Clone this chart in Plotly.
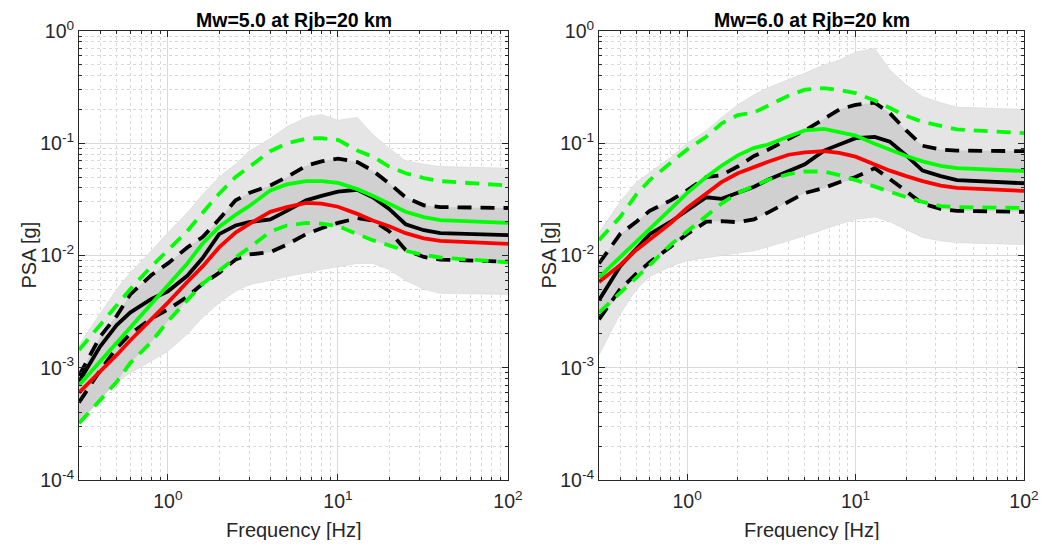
import numpy as np
import plotly.graph_objects as go

# ---------------- data ----------------
freqs = [0.3, 0.4, 0.5, 0.6, 0.8, 1.0, 1.3, 1.6, 2.0, 2.5, 3.0, 4.0, 5.0,
         6.5, 8.0, 10, 13, 16, 20, 25, 32, 40, 100]

# Mw 5.0
m5_black = [7.5e-4, 1.55e-3, 2.4e-3, 3.1e-3, 4.1e-3, 4.8e-3, 6.6e-3, 9.5e-3, 0.0155, 0.0185, 0.0198,
            0.021, 0.025, 0.031, 0.034, 0.037, 0.0385, 0.033, 0.026, 0.019, 0.0168, 0.0158, 0.0152]
m5_black_hi = [8.5e-4, 1.9e-3, 2.9e-3, 4.5e-3, 6.7e-3, 8.5e-3, 0.0118, 0.0146, 0.021, 0.031, 0.036,
               0.042, 0.05, 0.063, 0.069, 0.073, 0.068, 0.057, 0.044, 0.033, 0.028, 0.027, 0.0265]
m5_black_lo = [4.9e-4, 9.5e-4, 1.5e-3, 2.0e-3, 2.75e-3, 3.3e-3, 4.3e-3, 5.6e-3, 7.0e-3, 9.2e-3, 0.0102,
               0.0107, 0.0125, 0.0155, 0.0175, 0.0195, 0.0215, 0.0205, 0.0165, 0.0112, 0.0097, 0.0092, 0.0088]
m5_green = [7.0e-4, 1.14e-3, 1.68e-3, 2.29e-3, 3.75e-3, 5.5e-3, 8.5e-3, 0.0128, 0.018, 0.023, 0.0275,
            0.038, 0.043, 0.046, 0.046, 0.0443, 0.039, 0.034, 0.029, 0.0245, 0.022, 0.0207, 0.0195]
m5_green_hi = [1.44e-3, 2.4e-3, 3.6e-3, 5.0e-3, 8.0e-3, 0.0112, 0.0165, 0.024, 0.0355, 0.05, 0.062,
               0.085, 0.1, 0.11, 0.111, 0.107, 0.086, 0.076, 0.062, 0.054, 0.049, 0.046, 0.042]
m5_green_lo = [3.2e-4, 5.2e-4, 7.5e-4, 1.1e-3, 1.7e-3, 2.6e-3, 4.0e-3, 5.6e-3, 7.3e-3, 9.6e-3, 0.0117,
               0.0163, 0.0185, 0.0195, 0.0192, 0.0183, 0.0155, 0.0137, 0.0123, 0.011, 0.0101, 0.0096, 0.0087]
m5_red = [6.0e-4, 9.2e-4, 1.3e-3, 1.75e-3, 2.7e-3, 3.8e-3, 5.8e-3, 8.0e-3, 0.0118, 0.016, 0.019,
          0.0245, 0.027, 0.0294, 0.029, 0.0272, 0.0235, 0.0205, 0.0182, 0.0158, 0.0142, 0.0135, 0.0127]
m5_cloud_hi = [1.6e-3, 3.0e-3, 5.0e-3, 7.0e-3, 0.011, 0.016, 0.024, 0.035, 0.05, 0.065, 0.085,
               0.11, 0.14, 0.17, 0.18, 0.16, 0.17, 0.12, 0.09, 0.07, 0.065, 0.062, 0.06]
m5_cloud_lo = [4.0e-4, 6.0e-4, 7.5e-4, 9.0e-4, 1.15e-3, 1.4e-3, 2.0e-3, 2.8e-3, 3.8e-3, 4.8e-3, 5.5e-3,
               6.0e-3, 6.5e-3, 7.0e-3, 7.5e-3, 8.0e-3, 8.5e-3, 8.5e-3, 7.5e-3, 6.0e-3, 5.0e-3, 4.6e-3, 4.5e-3]

# Mw 6.0
m6_black = [4.0e-3, 8.0e-3, 0.0115, 0.0155, 0.020, 0.025, 0.033, 0.032, 0.036, 0.041, 0.047,
            0.056, 0.065, 0.086, 0.098, 0.111, 0.114, 0.103, 0.078, 0.057, 0.051, 0.047, 0.044]
m6_black_hi = [8.5e-3, 0.0155, 0.02, 0.025, 0.031, 0.038, 0.05, 0.052, 0.062, 0.077, 0.087,
               0.108, 0.13, 0.165, 0.2, 0.22, 0.23, 0.185, 0.13, 0.095, 0.088, 0.086, 0.085]
m6_black_lo = [2.7e-3, 5.0e-3, 6.9e-3, 8.7e-3, 0.012, 0.0155, 0.02, 0.0202, 0.0198, 0.021, 0.024,
               0.03, 0.036, 0.04, 0.045, 0.05, 0.06, 0.048, 0.037, 0.029, 0.026, 0.025, 0.0245]
m6_green = [6.4e-3, 9.6e-3, 0.0135, 0.0172, 0.026, 0.036, 0.05, 0.063, 0.078, 0.091, 0.097,
            0.115, 0.13, 0.134, 0.126, 0.117, 0.099, 0.087, 0.077, 0.069, 0.063, 0.06, 0.0566]
m6_green_hi = [0.0137, 0.022, 0.035, 0.047, 0.067, 0.088, 0.114, 0.15, 0.178, 0.188, 0.215,
               0.265, 0.3, 0.31, 0.298, 0.28, 0.24, 0.205, 0.175, 0.155, 0.142, 0.133, 0.123]
m6_green_lo = [3.1e-3, 4.6e-3, 6.4e-3, 8.2e-3, 0.0125, 0.0165, 0.0225, 0.029, 0.036, 0.042, 0.047,
               0.053, 0.056, 0.056, 0.052, 0.047, 0.041, 0.037, 0.033, 0.03, 0.0275, 0.027, 0.0265]
m6_red = [5.8e-3, 8.2e-3, 0.0112, 0.0138, 0.0195, 0.0265, 0.036, 0.045, 0.054, 0.062, 0.068,
          0.079, 0.083, 0.085, 0.082, 0.076, 0.065, 0.057, 0.051, 0.046, 0.042, 0.04, 0.0376]
m6_cloud_hi = [0.016, 0.03, 0.045, 0.055, 0.075, 0.1, 0.13, 0.17, 0.22, 0.27, 0.31,
               0.37, 0.42, 0.5, 0.55, 0.65, 0.7, 0.45, 0.33, 0.26, 0.23, 0.21, 0.2]
m6_cloud_lo = [1.3e-3, 3.0e-3, 5.0e-3, 6.5e-3, 8.0e-3, 9.0e-3, 9.5e-3, 0.01, 0.0105, 0.011, 0.012,
               0.0135, 0.015, 0.017, 0.019, 0.021, 0.022, 0.02, 0.017, 0.0145, 0.0135, 0.013, 0.0125]

titles = ["Mw=5.0 at Rjb=20 km", "Mw=6.0 at Rjb=20 km"]
x_tickvals = [1, 10, 100]
x_ticktext = ["10<sup>0</sup>", "10<sup>1</sup>", "10<sup>2</sup>"]
y_tickvals = [1e-4, 1e-3, 1e-2, 1e-1, 1]
y_ticktext = ["10<sup>-4</sup>", "10<sup>-3</sup>", "10<sup>-2</sup>", "10<sup>-1</sup>", "10<sup>0</sup>"]
x_label = "Frequency [Hz]"
y_label = "PSA [g]"

# ---------------- figure ----------------
# the page body keeps the browser's default 8 px margin: the figure is 16 px smaller
OFF = 8
W, H = 1047 - 2 * OFF, 548 - 2 * OFF
FONT = "Liberation Sans, Arial, Helvetica, sans-serif"
AX = "#262626"
GRID = "#d9d9d9"
LW = 3.8

panels = [
    dict(black=m5_black, black_hi=m5_black_hi, black_lo=m5_black_lo, green=m5_green,
         green_hi=m5_green_hi, green_lo=m5_green_lo, red=m5_red,
         cloud_hi=m5_cloud_hi, cloud_lo=m5_cloud_lo),
    dict(black=m6_black, black_hi=m6_black_hi, black_lo=m6_black_lo, green=m6_green,
         green_hi=m6_green_hi, green_lo=m6_green_lo, red=m6_red,
         cloud_hi=m6_cloud_hi, cloud_lo=m6_cloud_lo),
]

# plot-area boxes in window pixels [left, right, top, bottom] -> figure pixels
boxes_win = [(79, 508, 31, 480), (599, 1024, 31, 480)]
boxes = [(l - OFF, r - OFF, t - OFF, b - OFF) for (l, r, t, b) in boxes_win]

fig = go.Figure()

for i, p in enumerate(panels):
    xa = "x" if i == 0 else "x2"
    ya = "y" if i == 0 else "y2"
    band_x = freqs + freqs[::-1]
    fig.add_trace(go.Scatter(x=band_x, y=p["cloud_hi"] + p["cloud_lo"][::-1], fill="toself",
                             fillcolor="rgb(229,229,229)", line=dict(width=0.6, color="rgb(214,214,214)"),
                             mode="lines", hoverinfo="skip", showlegend=False, xaxis=xa, yaxis=ya))
    core_hi = list(np.maximum(p["black_hi"], p["green"]))
    core_lo = list(np.minimum(p["black_lo"], p["green_lo"]))
    fig.add_trace(go.Scatter(x=band_x, y=core_hi + core_lo[::-1], fill="toself",
                             fillcolor="rgb(208,208,208)", line=dict(width=0),
                             mode="lines", hoverinfo="skip", showlegend=False, xaxis=xa, yaxis=ya))
    dash = "14px,9px"
    fig.add_trace(go.Scatter(x=freqs, y=p["black_hi"], mode="lines",
                             line=dict(color="black", width=LW, dash=dash), showlegend=False, xaxis=xa, yaxis=ya))
    fig.add_trace(go.Scatter(x=freqs, y=p["black_lo"], mode="lines",
                             line=dict(color="black", width=LW, dash=dash), showlegend=False, xaxis=xa, yaxis=ya))
    fig.add_trace(go.Scatter(x=freqs, y=p["black"], mode="lines",
                             line=dict(color="black", width=LW), showlegend=False, xaxis=xa, yaxis=ya))
    fig.add_trace(go.Scatter(x=freqs, y=p["green_hi"], mode="lines",
                             line=dict(color="#00ff00", width=LW, dash=dash), showlegend=False, xaxis=xa, yaxis=ya))
    fig.add_trace(go.Scatter(x=freqs, y=p["green_lo"], mode="lines",
                             line=dict(color="#00ff00", width=LW, dash=dash), showlegend=False, xaxis=xa, yaxis=ya))
    fig.add_trace(go.Scatter(x=freqs, y=p["green"], mode="lines",
                             line=dict(color="#00ff00", width=LW), showlegend=False, xaxis=xa, yaxis=ya))
    fig.add_trace(go.Scatter(x=freqs, y=p["red"], mode="lines",
                             line=dict(color="#ff0000", width=LW), showlegend=False, xaxis=xa, yaxis=ya))

x_minor = [m * 10 ** k for k in range(-1, 2) for m in range(2, 10) if 0.3 <= m * 10 ** k <= 100]
y_minor = [m * 10 ** k for k in range(-4, 0) for m in range(2, 10)]

common = dict(type="log", showline=True, linecolor=AX, linewidth=1, mirror="allticks",
              ticks="inside", ticklen=6, tickcolor=AX, tickwidth=1,
              showgrid=True, gridcolor=GRID, gridwidth=1, zeroline=False,
              tickfont=dict(family=FONT, size=19.5, color=AX),
              tickmode="array", automargin=False)

layout_axes = {}
for i, (l, r, t, b) in enumerate(boxes):
    sx = "" if i == 0 else "2"
    layout_axes["xaxis" + sx] = dict(common, domain=[l / W, r / W], range=[np.log10(0.3), 2],
                                     tickvals=x_tickvals, ticktext=x_ticktext,
                                     anchor="y" + sx, ticklabelstandoff=4,
                                     minor=dict(tickmode="array", tickvals=x_minor, ticks="inside", ticklen=3,
                                                tickcolor=AX, showgrid=True, gridcolor=GRID, griddash="dot"))
    layout_axes["yaxis" + sx] = dict(common, domain=[1 - b / H, 1 - t / H], range=[-4, 0],
                                     tickvals=y_tickvals, ticktext=y_ticktext,
                                     anchor="x" + sx,
                                     minor=dict(tickmode="array", tickvals=y_minor, ticks="inside", ticklen=3,
                                                tickcolor=AX, showgrid=True, gridcolor=GRID, griddash="dot"))

annotations = []
for i, (l, r, t, b) in enumerate(boxes):
    cx = (l + r) / 2 / W
    annotations.append(dict(text="<b>" + titles[i] + "</b>", x=cx, y=1, xref="paper", yref="paper",
                            showarrow=False, xanchor="center", yanchor="top", borderpad=0,
                            font=dict(family=FONT, size=19.5, color="black")))
    annotations.append(dict(text=x_label, x=cx, y=1 - (530 - OFF) / H, xref="paper", yref="paper",
                            showarrow=False, xanchor="center", yanchor="middle",
                            font=dict(family=FONT, size=20, color=AX)))
    annotations.append(dict(text=y_label, x=(l - 51) / W, y=1 - (t + b) / 2 / H, xref="paper", yref="paper",
                            showarrow=False, xanchor="center", yanchor="middle", textangle=-90,
                            font=dict(family=FONT, size=20, color=AX)))

fig.update_layout(width=W, height=H, autosize=False,
                  margin=dict(l=0, r=0, t=0, b=0, pad=0, autoexpand=False),
                  paper_bgcolor="white", plot_bgcolor="white", showlegend=False,
                  annotations=annotations, **layout_axes)

fig.write_html("out.html")
